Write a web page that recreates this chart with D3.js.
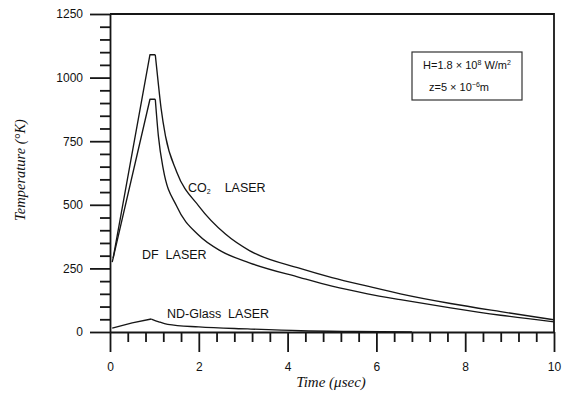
<!DOCTYPE html>
<html>
<head>
<meta charset="utf-8">
<script src="https://cdn.jsdelivr.net/npm/d3@7"></script>
<style>
  body { margin: 0; background: #fff; }
  svg text { fill: #111; }
</style>
</head>
<body>
<svg id="chart" width="566" height="397"></svg>
<script>
"use strict";

// time in microseconds, temperature in K
const co2Time = [0.07, 0.9, 1.02, 1.08, 1.15, 1.25, 1.5, 2.0, 2.6, 3.14, 4.28, 5.0, 5.8, 6.54, 7.67, 8.8, 10];
const co2Temp = [290, 1090, 1090, 990, 880, 770, 630, 495, 385, 320, 250, 214, 180, 150, 112, 80, 48];

const dfTime = [0.05, 0.9, 1.02, 1.09, 1.2, 1.5, 2.0, 2.5, 3.14, 4.28, 5.0, 5.8, 6.54, 7.67, 8.8, 10];
const dfTemp = [275, 915, 915, 770, 640, 495, 380, 318, 272, 214, 180, 150, 127, 95, 66, 40];

const ndTime = [0.05, 0.5, 0.93, 1.1, 1.3, 2.0, 3.1, 4.3, 5.5, 6.8];
const ndTemp = [15, 36, 51, 40, 30, 20, 12, 5, 2, 0];

// index where the straight rise ends and the decay starts
const co2Peak = 2, dfPeak = 2, ndPeak = 2;

const xMajor = [0, 2, 4, 6, 8, 10];
const yMajor = [0, 250, 500, 750, 1000, 1250];

const svg = d3.select("#chart");
const plot = {l: 110, r: 554, t: 14, b: 332};

const x = d3.scaleLinear().domain([0, 10]).range([plot.l, plot.r]);
const y = d3.scaleLinear().domain([0, 1250]).range([plot.b, plot.t]);

const ink = "#161616";
const sans = "Liberation Sans, Arial, sans-serif";
const serif = "Liberation Serif, Times New Roman, serif";

// frame (top and right)
svg.append("path")
  .attr("d", `M${plot.l},${plot.t}H${plot.r}V${plot.b}`)
  .attr("fill", "none").attr("stroke", ink).attr("stroke-width", 1.8);

// y axis: minor ticks every 50, major every 250
const yMinor = d3.range(0, 1251, 50).filter(v => v % 250 !== 0);
svg.append("g").attr("transform", `translate(${plot.l},0)`)
  .call(d3.axisLeft(y).tickValues(yMinor).tickSize(10).tickFormat(""))
  .call(g => g.select(".domain").remove())
  .selectAll("line").attr("stroke", ink).attr("stroke-width", 1.8);

const yAx = svg.append("g").attr("transform", `translate(${plot.l},0)`)
  .call(d3.axisLeft(y).tickValues(yMajor).tickFormat(d3.format("d"))
    .tickSize(20).tickPadding(7).tickSizeOuter(0));
yAx.select(".domain").attr("stroke", ink).attr("stroke-width", 1.8);
yAx.selectAll("line").attr("stroke", ink).attr("stroke-width", 1.8);
yAx.selectAll("text").attr("font-family", sans).attr("font-size", 12).attr("fill", "#111");

// x axis: minor every 0.4, major every 2
const xMinor = d3.range(1, 25).map(i => i * 0.4).filter(v => Math.abs(v / 2 - Math.round(v / 2)) > 1e-6);
svg.append("g").attr("transform", `translate(0,${plot.b})`)
  .call(d3.axisBottom(x).tickValues(xMinor).tickSize(10).tickFormat(""))
  .call(g => g.select(".domain").remove())
  .selectAll("line").attr("stroke", ink).attr("stroke-width", 1.8);

const xAx = svg.append("g").attr("transform", `translate(0,${plot.b})`)
  .call(d3.axisBottom(x).tickValues(xMajor).tickFormat(d3.format("d"))
    .tickSize(20).tickPadding(10).tickSizeOuter(0));
xAx.select(".domain").attr("stroke", ink).attr("stroke-width", 1.8);
xAx.selectAll("line").attr("stroke", ink).attr("stroke-width", 1.8);
xAx.selectAll("text").attr("font-family", sans).attr("font-size", 12).attr("fill", "#111");

// curves: straight rise to the peak, smooth decay after it
const rise = d3.line().x(d => x(d[0])).y(d => y(d[1]));
const decay = d3.line().x(d => x(d[0])).y(d => y(d[1])).curve(d3.curveMonotoneX);
[[co2Time, co2Temp, co2Peak], [dfTime, dfTemp, dfPeak], [ndTime, ndTemp, ndPeak]].forEach(([ts, vs, pk]) => {
  const pts = d3.zip(ts, vs);
  const g = svg.append("g").attr("fill", "none").attr("stroke", ink)
    .attr("stroke-width", 1.35).attr("stroke-linejoin", "round");
  g.append("path").attr("d", rise(pts.slice(0, pk + 1)));
  g.append("path").attr("d", decay(pts.slice(pk)));
});

// curve labels
const co2Lbl = svg.append("text").attr("x", 188).attr("y", 192)
  .attr("font-family", sans).attr("font-size", 12.5);
co2Lbl.append("tspan").text("CO");
co2Lbl.append("tspan").text("2").attr("font-size", 7).attr("dy", 2);
co2Lbl.append("tspan").text("LASER").attr("dy", -2).attr("dx", 14);

svg.append("text").attr("x", 142).attr("y", 259)
  .attr("font-family", sans).attr("font-size", 12.5)
  .attr("xml:space", "preserve").text("DF  LASER");

svg.append("text").attr("x", 167).attr("y", 318)
  .attr("font-family", sans).attr("font-size", 12.5)
  .attr("xml:space", "preserve").text("ND-Glass  LASER");

// parameter box
svg.append("rect").attr("x", 412).attr("y", 52).attr("width", 110).attr("height", 48)
  .attr("fill", "none").attr("stroke", "#333").attr("stroke-width", 1.2);

const h = svg.append("text").attr("x", 467).attr("y", 69).attr("text-anchor", "middle")
  .attr("font-family", sans).attr("font-size", 11);
h.append("tspan").text("H=1.8 \u00d7 10");
h.append("tspan").text("8").attr("font-size", 7).attr("dy", -4);
h.append("tspan").text(" W/m").attr("dy", 4);
h.append("tspan").text("2").attr("font-size", 7).attr("dy", -4);

const z = svg.append("text").attr("x", 459).attr("y", 91).attr("text-anchor", "middle")
  .attr("font-family", sans).attr("font-size", 11);
z.append("tspan").text("z=5 \u00d7 10");
z.append("tspan").text("\u22126").attr("font-size", 7).attr("dy", -4);
z.append("tspan").text("m").attr("dy", 4);

// axis titles
svg.append("text").attr("x", 331).attr("y", 387).attr("text-anchor", "middle")
  .attr("font-family", serif).attr("font-style", "italic").attr("font-size", 15)
  .text("Time (\u03bcsec)");

svg.append("text").attr("transform", "translate(25,170) rotate(-90)")
  .attr("text-anchor", "middle")
  .attr("font-family", serif).attr("font-style", "italic").attr("font-size", 14.5)
  .text("Temperature (\u00b0K)");
</script>
</body>
</html>
